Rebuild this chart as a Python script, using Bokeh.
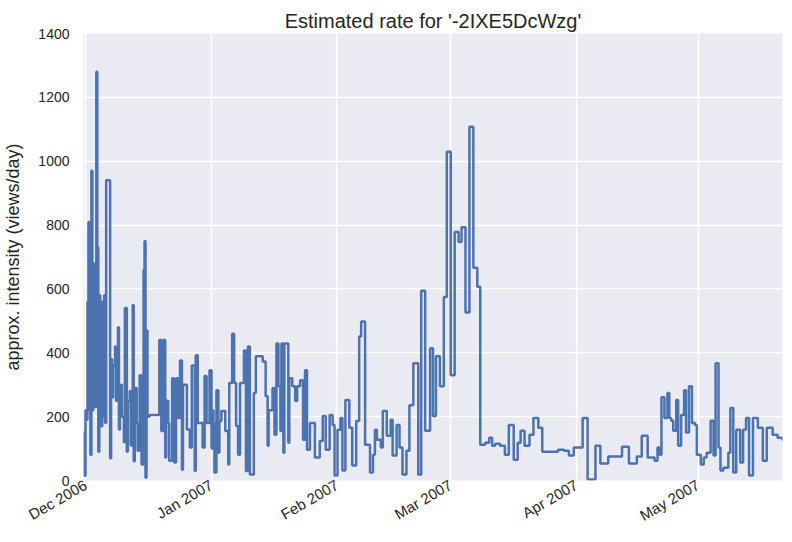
import math
import pandas as pd
from bokeh.plotting import figure
from bokeh.models import Range1d, MonthsTicker, DatetimeTickFormatter, SingleIntervalTicker
from bokeh.embed import file_html
from bokeh.resources import INLINE

title_text = "Estimated rate for '-2IXE5DcWzg'"
y_label = "approx. intensity (views/day)"
start_date = "2006-12-01"

# step change points: days since start_date, and estimated rate (views/day)
days = [-0.49, -0.24, 0.00, 0.24, 0.49, 0.73, 0.97, 1.21, 1.46, 1.70, 1.94, 2.18, 2.67, 2.91, 3.16,
        3.40, 3.64, 3.88, 4.13, 4.37, 4.61, 4.85, 5.10, 6.07, 6.31, 6.55, 6.80, 7.28, 7.52, 8.01,
        8.25, 8.49, 8.74, 8.98, 9.47, 9.71, 10.19, 10.44, 10.92, 11.16, 11.65, 11.89, 12.14, 12.62,
        12.86, 13.35, 13.83, 14.32, 14.56, 14.80, 15.05, 15.29, 15.78, 18.20, 18.69, 19.17, 19.66,
        19.90, 20.39, 20.63, 21.36, 21.84, 22.33, 22.81, 23.30, 23.78, 24.03, 25.00, 25.73, 26.21,
        26.94, 27.18, 27.67, 28.88, 29.37, 29.85, 30.58, 31.07, 31.31, 31.55, 31.79, 32.28, 32.76,
        33.01, 33.49, 34.46, 35.19, 35.44, 36.16, 36.65, 37.13, 37.62, 38.10, 39.07, 39.56, 40.05,
        40.53, 41.50, 41.99, 43.69, 44.41, 44.90, 45.14, 46.11, 46.60, 47.08, 47.57, 48.05, 48.30,
        48.78, 49.03, 50.00, 50.24, 50.97, 51.70, 52.18, 52.91, 53.64, 54.12, 54.61, 55.34, 56.55,
        57.76, 58.49, 59.22, 60.19, 60.92, 61.40, 62.13, 62.86, 63.34, 64.07, 65.04, 65.77, 66.74,
        67.47, 67.96, 68.93, 70.14, 70.87, 71.35, 71.84, 72.81, 73.30, 74.27, 75.24, 75.72, 76.69,
        77.42, 78.15, 79.12, 79.85, 80.82, 82.03, 82.76, 83.73, 84.95, 85.67, 86.40, 87.37, 88.34,
        89.07, 90.04, 91.01, 91.98, 92.71, 93.68, 94.65, 95.62, 96.59, 97.32, 98.54, 99.51, 100.24,
        100.96, 102.18, 103.39, 104.36, 105.57, 106.55, 107.27, 108.24, 109.46, 110.43, 111.64,
        112.61, 116.50, 117.95, 119.17, 120.38, 122.56, 123.78, 125.72, 126.93, 128.87, 132.27,
        133.97, 135.92, 137.13, 138.59, 140.29, 141.02, 141.50, 141.99, 142.72, 143.45, 143.93,
        144.41, 144.90, 145.63, 146.11, 146.84, 147.57, 148.05, 148.78, 149.51, 150.24, 150.72,
        151.69, 152.42, 153.14, 154.11, 154.84, 155.33, 156.06, 156.54, 157.27, 158.48, 158.97,
        159.70, 160.43, 161.40, 162.12, 162.85, 163.58, 164.55, 165.76, 166.98, 167.95, 169.40,
        170.62, 171.83]
rate = [150, 15, 220, 190, 560, 810, 220, 80, 970, 220, 680, 230, 1280, 730, 90,
        580, 200, 170, 560, 200, 580, 180, 940, 70, 380, 260, 360, 420, 250, 480,
        160, 200, 300, 200, 120, 540, 90, 250, 280, 110, 550, 60, 290, 180,
        93, 330, 50, 660, 750, 9, 470, 200, 205, 440, 155, 440, 72,
        250, 180, 62, 320, 56, 320, 196, 376, 34, 300, 160, 103, 360,
        30, 392, 180, 103, 327, 180, 345, 100, 220, 180, 25, 283, 87,
        186, 218, 155, 50, 305, 460, 305, 171, 81, 305, 407, 30, 420,
        19, 274, 389, 373, 264, 109, 220, 290, 143, 429, 295, 155, 429,
        87, 429, 118, 320, 295, 249, 295, 314, 128, 345, 96, 180, 72,
        124, 202, 96, 205, 174, 16, 159, 196, 31, 252, 165, 47, 186,
        451, 498, 112, 25, 81, 159, 128, 103, 218, 140, 190, 78, 174,
        103, 19, 93, 236, 367, 19, 594, 156, 414, 202, 389, 295, 575,
        1030, 330, 778, 747, 793, 526, 1108, 666, 607, 112, 118, 134, 109,
        115, 109, 81, 174, 65, 118, 156, 109, 143, 196, 165,
        90, 96, 93, 78, 103, 196, 3, 109, 53, 75, 106,
        53, 75, 140, 72, 62, 103, 81, 261, 196, 274, 196,
        187, 156, 252, 109, 205, 283, 150, 295, 180, 174, 81,
        50, 72, 87, 187, 78, 367, 103, 31, 40, 87, 227,
        25, 159, 56, 159, 196, 16, 196, 165, 62, 165, 143,
        134, 125]

t0 = pd.Timestamp(start_date)
dates = [t0 + pd.Timedelta(days=d) for d in days]

fg = "#262626"
p = figure(width=784, height=534, x_axis_type="datetime",
           output_backend="svg", toolbar_location=None,
           x_range=Range1d(dates[0], dates[-1]), y_range=Range1d(0, 1400),
           min_border_left=80, min_border_right=2, min_border_top=33, min_border_bottom=51,
           title=title_text)
p.background_fill_color = "#EAEAF2"
p.border_fill_color = "white"
p.outline_line_color = None

p.title.align = "center"
p.title.text_font = "Liberation Sans"
p.title.text_font_size = "20px"
p.title.text_font_style = "normal"
p.title.text_color = fg
p.title.standoff = 4
p.title.offset = 0

p.step(dates, rate, mode="after", line_color="#4C72B0", line_width=2.5)

p.xaxis.ticker = MonthsTicker(months=list(range(12)))
p.xaxis.formatter = DatetimeTickFormatter(days="%b %Y", months="%b %Y", years="%b %Y")
p.xaxis.major_label_orientation = math.pi / 6
p.xaxis.major_label_standoff = 3
p.yaxis.ticker = SingleIntervalTicker(interval=200)

for ax in (p.xaxis, p.yaxis):
    ax.axis_line_color = None
    ax.major_tick_line_color = None
    ax.minor_tick_line_color = None
    ax.major_tick_in = 0
    ax.major_tick_out = 0
    ax.major_label_text_font = "Liberation Sans"
    ax.major_label_text_color = fg
p.xaxis.major_label_text_font_size = "15px"
p.yaxis.major_label_text_font_size = "14px"

p.yaxis.axis_label = y_label
p.yaxis.axis_label_text_font = "Liberation Sans"
p.yaxis.axis_label_text_font_size = "18px"
p.yaxis.axis_label_text_font_style = "normal"
p.yaxis.axis_label_text_color = fg
p.yaxis.axis_label_standoff = 12
p.yaxis.major_label_standoff = 10

p.xgrid.grid_line_color = "white"
p.ygrid.grid_line_color = "white"
p.xgrid.grid_line_width = 1.5
p.ygrid.grid_line_width = 1.5

open("out.html", "w").write(file_html(p, INLINE))
